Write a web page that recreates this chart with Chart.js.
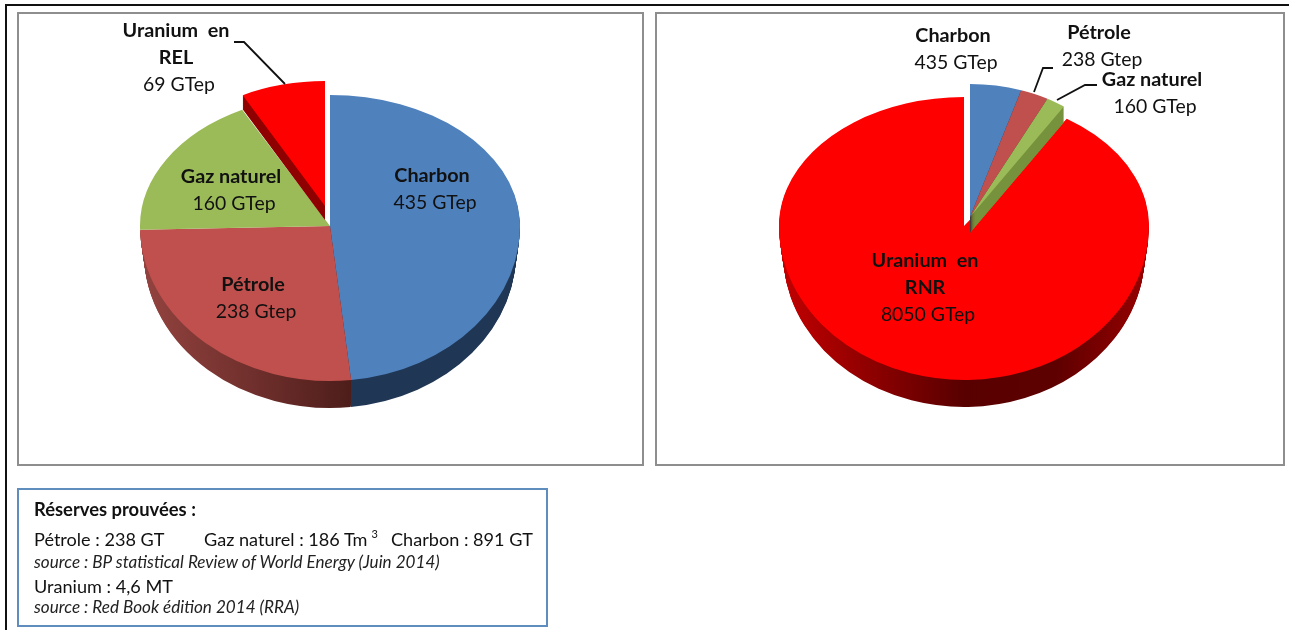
<!DOCTYPE html>
<html lang="fr">
<head>
<meta charset="utf-8">
<title>Réserves prouvées</title>
<script src="https://cdn.jsdelivr.net/npm/chart.js@4/dist/chart.umd.min.js"></script>
<style>
  html, body { margin: 0; background: #fff; }
  body { width: 1289px; height: 630px; position: relative; overflow: hidden; font-family: Lato, sans-serif; color: #111; }
  canvas { position: absolute; left: 0; top: 0; }
  .frame { position: absolute; left: 5px; top: 4px; width: 1290px; height: 640px; border: 2px solid #111; }
  .panel { position: absolute; top: 12px; height: 450px; border: 2px solid #8e8e8e; }
  #notes { position: absolute; left: 17px; top: 488px; width: 527px; height: 135px; border: 2px solid #5f8dbd; }
  #notes div { position: absolute; white-space: pre; line-height: 22px; }
  #notes .big { font-size: 18.1px; }
  #notes .src { font-size: 17.1px; font-style: italic; color: #222; }
  #notes b { font-size: 18.4px; }
  #notes sup { font-size: 11px; position: relative; top: -5px; vertical-align: top; margin-left: 4px; }
</style>
</head>
<body>
<div class="frame"></div>
<div class="panel" style="left:17px;width:623px"></div>
<div class="panel" style="left:655px;width:626px"></div>
<canvas id="relPie" width="1289" height="630"></canvas>
<canvas id="rnrPie" width="1289" height="630"></canvas>
<div id="notes">
  <div style="left:15px;top:8px"><b>Réserves prouvées :</b></div>
  <div class="big" style="left:15px;top:38px">Pétrole : 238 GT</div>
  <div class="big" style="left:185px;top:38px">Gaz naturel : 186 Tm<sup>3</sup></div>
  <div class="big" style="left:372px;top:38px">Charbon : 891 GT</div>
  <div class="src" style="left:15px;top:61px">source : BP statistical Review of World Energy (Juin 2014)</div>
  <div class="big" style="left:15px;top:85px">Uranium : 4,6 MT</div>
  <div class="src" style="left:15px;top:106px">source : Red Book édition 2014 (RRA)</div>
</div>
<script>
const relCategories = ["Charbon", "Pétrole", "Gaz naturel", "Uranium en REL"];
const rnrCategories = ["Charbon", "Pétrole", "Gaz naturel", "Uranium en RNR"];
const relValues = [435, 238, 160, 69];
const rnrValues = [435, 238, 160, 8050];
const relValueLabels = ["435 GTep", "238 Gtep", "160 GTep", "69 GTep"];
const rnrValueLabels = ["435 GTep", "238 Gtep", "160 GTep", "8050 GTep"];

const sliceColors = ["#4f81bd", "#c0504d", "#9bbb59", "#ff0000"];
const sideColors = [
  [[0, "#1f3654"], [1, "#1f3654"]],
  [[0, "#93433f"], [0.3, "#6f2f2c"], [0.56, "#4d1d1a"], [1, "#4d1d1a"]],
  [[0, "#76923c"], [1, "#76923c"]],
  [[0, "#8f0000"], [1, "#8f0000"]]
];
const rnrRedSide = [[0, "#c20000"], [0.5, "#580000"], [0.75, "#5e0000"], [1, "#960000"]];

// each slice sits on its own apex so an exploded one can be moved off the others
const relView = {
  slices: [
    { cx: 330, cy: 226, rx: 190, ryTop: 131, ryBottom: 155, depth: 27, taper: 0.15 },
    { cx: 330, cy: 226, rx: 190, ryTop: 131, ryBottom: 155, depth: 27, taper: 0.15 },
    { cx: 330, cy: 226, rx: 190, ryTop: 131, ryBottom: 155, depth: 0, taper: 0 },
    { cx: 325, cy: 206, rx: 178, ryTop: 125, ryBottom: 125, depth: 14, taper: 0 }
  ],
  layers: [[0, 1, 2], [3]],
  labels: [
    { x: 432, y: 176, name: ["Charbon"] },
    { x: 253, y: 285, name: ["Pétrole"] },
    { x: 231, y: 177, name: ["Gaz naturel"] },
    { x: 176, y: 31, name: ["Uranium  en", "REL"] }
  ],
  leaders: [[[234, 42], [244, 42], [285, 84]]]
};
const rnrView = {
  slices: [
    { cx: 970, cy: 217, rx: 169, ryTop: 133, ryBottom: 133, depth: 16, taper: 0 },
    { cx: 970, cy: 217, rx: 169, ryTop: 133, ryBottom: 133, depth: 16, taper: 0 },
    { cx: 970, cy: 217, rx: 169, ryTop: 133, ryBottom: 133, depth: 16, taper: 0 },
    { cx: 964, cy: 226, rx: 185, ryTop: 129, ryBottom: 154, depth: 27, taper: 0.15, side: rnrRedSide }
  ],
  layers: [[3], [0, 1, 2]],
  labels: [
    { x: 953, y: 36, name: ["Charbon"] },
    { x: 1099, y: 33, name: ["Pétrole"] },
    { x: 1152, y: 80, name: ["Gaz naturel"] },
    { x: 925, y: 261, name: ["Uranium  en", "RNR"] }
  ],
  leaders: [
    [[1053, 68], [1043, 68], [1034, 92]],
    [[1097, 85], [1085, 85], [1057, 100]]
  ]
};

// draws one arc element flattened, with a shallower back half than front half
function drawFlat(ctx, arc, s, dy) {
  const R = arc.outerRadius;
  const y0 = s.cy + dy;
  const rx = s.rx - dy * s.taper;
  [[s.ryTop, 0, y0], [s.ryBottom, y0, 630 - y0]].forEach(([ry, clipY, clipH]) => {
    ctx.save();
    ctx.beginPath();
    ctx.rect(0, clipY, 1289, clipH);
    ctx.clip();
    ctx.translate(s.cx, y0);
    ctx.scale(rx / R, ry / R);
    ctx.translate(-arc.x, -arc.y);
    arc.draw(ctx);
    ctx.restore();
  });
}

function tiltedPie(view) {
  return {
    id: "tiltedPie",
    beforeDatasetsDraw(chart) {
      const ctx = chart.ctx;
      const arcs = chart.getDatasetMeta(0).data;
      view.layers.forEach(layer => {
        // side walls first, stacked downwards
        layer.forEach(i => {
          const arc = arcs[i], s = view.slices[i], faceOptions = arc.options;
          const wall = ctx.createLinearGradient(arc.x - arc.outerRadius, 0, arc.x + arc.outerRadius, 0);
          (s.side || sideColors[i]).forEach(([at, color]) => wall.addColorStop(at, color));
          arc.options = { ...faceOptions, backgroundColor: wall };
          for (let d = s.depth; d > 0; d--) drawFlat(ctx, arc, s, d);
          arc.options = faceOptions;
        });
        layer.forEach(i => drawFlat(ctx, arcs[i], view.slices[i], 0));
      });
      return false;
    },
    // cancelling the dataset pass also skips afterDatasetsDraw, so labels go here
    afterDraw(chart) {
      const ctx = chart.ctx;
      ctx.save();
      ctx.strokeStyle = "#111";
      ctx.lineWidth = 1.8;
      view.leaders.forEach(points => {
        ctx.beginPath();
        points.forEach(([x, y], n) => n ? ctx.lineTo(x, y) : ctx.moveTo(x, y));
        ctx.stroke();
      });
      ctx.fillStyle = "#111";
      ctx.textAlign = "center";
      ctx.textBaseline = "middle";
      view.labels.forEach((label, i) => {
        let y = label.y;
        ctx.font = "bold 19.8px Lato";
        label.name.forEach(line => {
          ctx.fillText(line, label.x, y);
          y += 27;
        });
        ctx.font = "19.4px Lato";
        ctx.fillText(chart.data.datasets[0].valueLabels[i], label.x + 3, y);
      });
      ctx.restore();
    }
  };
}

function buildPie(id, categories, values, valueLabels, view) {
  return new Chart(document.getElementById(id), {
    type: "pie",
    data: {
      labels: categories,
      datasets: [{ data: values, valueLabels, backgroundColor: sliceColors, borderWidth: 0 }]
    },
    options: {
      responsive: false,
      animation: false,
      events: [],
      plugins: { legend: { display: false }, tooltip: { enabled: false } }
    },
    plugins: [tiltedPie(view)]
  });
}

buildPie("relPie", relCategories, relValues, relValueLabels, relView);
buildPie("rnrPie", rnrCategories, rnrValues, rnrValueLabels, rnrView);
</script>
</body>
</html>
